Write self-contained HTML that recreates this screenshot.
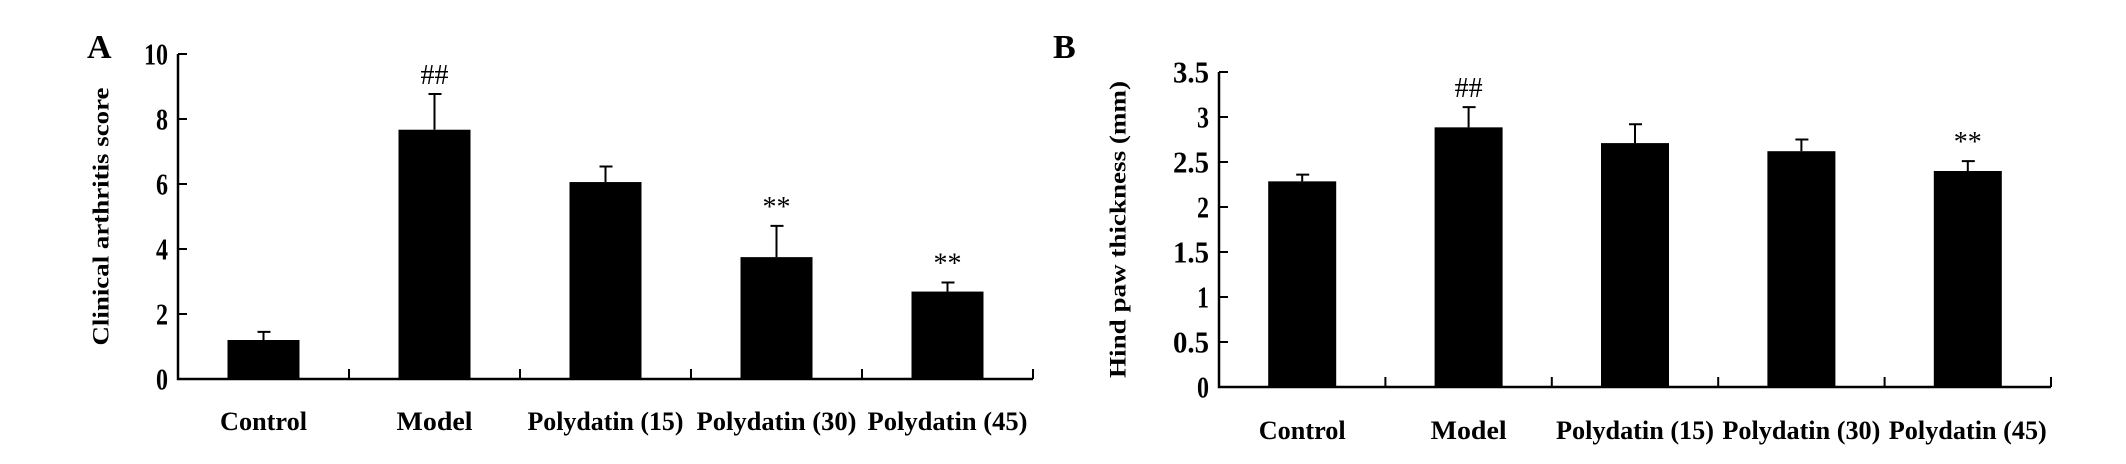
<!DOCTYPE html>
<html><head><meta charset="utf-8"><style>
html,body{margin:0;padding:0;background:#fff;}
svg text{font-family:"Liberation Serif",serif;font-weight:bold;fill:#000;}
</style></head><body>
<svg id="chart" width="2126" height="459" viewBox="0 0 2126 459" xmlns="http://www.w3.org/2000/svg">
<g id="pa"></g>
<g id="pb"></g>
</svg>
<script>
const categories = ["Control","Model","Polydatin (15)","Polydatin (30)","Polydatin (45)"];
const scoreValues = [1.2, 7.67, 6.06, 3.75, 2.69];
const scoreErrors = [0.25, 1.1, 0.48, 0.96, 0.28];
const scoreMarks = ["", "##", "", "**", "**"];
const scoreTicks = [0,2,4,6,8,10];
const pawValues = [2.285, 2.885, 2.71, 2.62, 2.40];
const pawErrors = [0.075, 0.225, 0.21, 0.13, 0.11];
const pawMarks = ["", "##", "", "", "**"];
const pawTicks = [0,0.5,1,1.5,2,2.5,3,3.5];

const NS = "http://www.w3.org/2000/svg";
function mk(parent, tag, attrs){
  const e = document.createElementNS(NS, tag);
  for (const k in attrs) e.setAttribute(k, attrs[k]);
  parent.appendChild(e);
  return e;
}
function panel(cfg){
  const g = document.getElementById(cfg.id);
  const n = cfg.cats.length;
  const cw = (cfg.x1 - cfg.x0)/n;
  const y = v => cfg.y0 - (v - cfg.min)/(cfg.max - cfg.min)*(cfg.y0 - cfg.yTop);
  const xc = i => cfg.x0 + cw*(i+0.5);
  const L = mk(g,'text',{x:cfg.letterX,y:58,'font-size':34});
  L.textContent = cfg.letter;
  
  
  const T = mk(g,'text',{x:0,y:0,'font-size':23,'text-anchor':'middle',transform:`translate(${cfg.titleX},${(cfg.yTop+cfg.y0)/2}) rotate(-90)`,textLength:cfg.titleLen,lengthAdjust:'spacingAndGlyphs','dominant-baseline':'central'});
  T.textContent = cfg.title;
  
  
  cfg.vals.forEach((v,i)=>{
    const top = y(v), et = y(v+cfg.errs[i]);
    const r = mk(g,'rect',{x:xc(i)-cfg.bw/2,y:top,width:cfg.bw,height:cfg.y0-top,fill:'#000'});
    
    
    const e = mk(g,'path',{d:`M${xc(i)},${top} V${et} M${xc(i)-6},${et} H${xc(i)+7}`,stroke:'#000','stroke-width':2,fill:'none'});
    
    
    if (cfg.marks[i]) {
      const m = mk(g,'text',{x:xc(i),y:et-10,'font-size':28,'text-anchor':'middle'});
      m.style.fontWeight='normal';
      m.textContent = cfg.marks[i];
      
      
    }
    const lab = mk(g,'text',{x:xc(i),y:cfg.labelY,'font-size':26,'text-anchor':'middle',textLength:cfg.labLens[i],lengthAdjust:'spacingAndGlyphs'});
    lab.textContent = cfg.cats[i];
    
    
  });
  const ax = mk(g,'path',{d:`M${cfg.x0},${cfg.yTop} V${cfg.y0} H${cfg.x1}`,stroke:'#000','stroke-width':2.5,fill:'none'});
  
  
  for (let i=1;i<=n;i++){
    const t = mk(g,'line',{x1:cfg.x0+cw*i,x2:cfg.x0+cw*i,y1:cfg.y0,y2:cfg.y0-10,stroke:'#000','stroke-width':2});
    
    
  }
  cfg.ticks.forEach(v=>{
    const t = mk(g,'line',{x1:cfg.x0,x2:cfg.x0+9,y1:y(v),y2:y(v),stroke:'#000','stroke-width':2});
    
    
    const s = String(v);
    const tl = mk(g,'text',{x:cfg.x0-10,y:y(v),'font-size':31,'text-anchor':'end','dominant-baseline':'central',textLength:s.length*12,lengthAdjust:'spacingAndGlyphs'});
    tl.textContent = s;
    
    
  });
}
panel({id:'pa',letter:'A',letterX:87,x0:178,x1:1033,y0:379,yTop:54,min:0,max:10,bw:72,
  cats:categories,vals:scoreValues,errs:scoreErrors,marks:scoreMarks,ticks:scoreTicks,
  title:'Clinical arthritis score',titleX:101,titleLen:258,labelY:430,labLens:[87,76,156,160,160]});
panel({id:'pb',letter:'B',letterX:1053,x0:1219,x1:2051,y0:387,yTop:72,min:0,max:3.5,bw:68,
  cats:categories,vals:pawValues,errs:pawErrors,marks:pawMarks,ticks:pawTicks,
  title:'Hind paw thickness (mm)',titleX:1118,titleLen:297,labelY:439,labLens:[87,76,158,158,158]});
</script>
</body></html>
